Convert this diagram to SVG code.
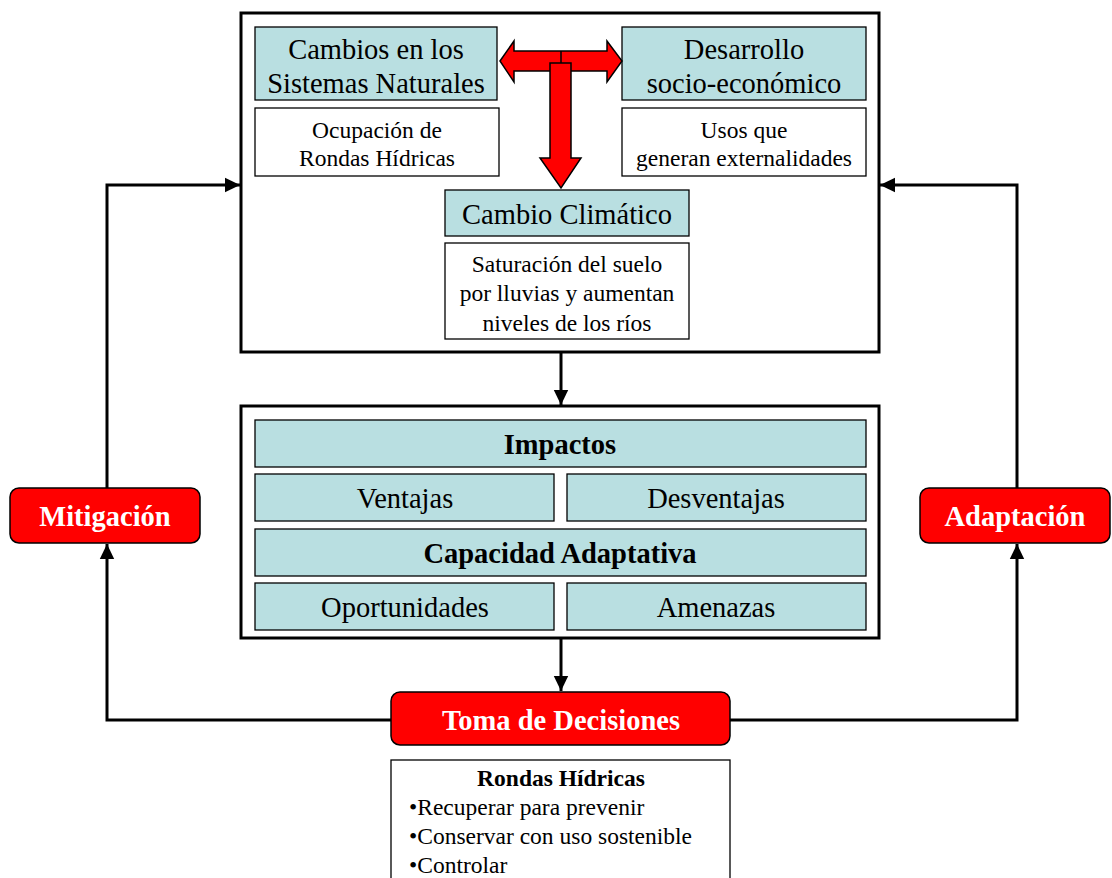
<svg xmlns="http://www.w3.org/2000/svg" width="1112" height="878" viewBox="0 0 1112 878">
<style>
.frame{fill:#fff;stroke:#000;stroke-width:3}
.teal{fill:#B9DFE1;stroke:#000;stroke-width:1.3}
.white{fill:#fff;stroke:#000;stroke-width:1.3}
.red{fill:#FF0000;stroke:#000;stroke-width:1.5}
.t{font-family:"Liberation Serif","Times New Roman",serif;text-anchor:middle;fill:#000}
.big{font-size:28.5px}
.sm{font-size:23.5px}
.b{font-weight:bold}
.w{fill:#fff}
.l{text-anchor:start}
.conn{fill:none;stroke:#000;stroke-width:3}
</style>
<defs>
<marker id="ah" markerWidth="6" markerHeight="6" refX="5" refY="3" orient="auto" markerUnits="strokeWidth">
<path d="M0,0.6 L5,3 L0,5.4 Z" fill="#000"/>
</marker>
</defs>
<g id="frame-top"><rect class="frame" x="241" y="13" width="638" height="339"/></g>
<g id="frame-mid"><rect class="frame" x="241" y="406" width="638" height="232"/></g>

<g id="cambios"><rect class="teal" x="255" y="27" width="242" height="73"/>
<text class="t big" x="376" y="59">Cambios en los</text>
<text class="t big" x="376" y="93">Sistemas Naturales</text></g>
<g id="ocupacion"><rect class="white" x="255" y="108" width="244" height="68"/>
<text class="t sm" x="377" y="138">Ocupación de</text>
<text class="t sm" x="377" y="166">Rondas Hídricas</text></g>
<g id="desarrollo"><rect class="teal" x="622" y="27" width="244" height="73"/>
<text class="t big" x="744" y="59">Desarrollo</text>
<text class="t big" x="744" y="93">socio-económico</text></g>
<g id="usos"><rect class="white" x="622" y="108" width="244" height="68"/>
<text class="t sm" x="744" y="138">Usos que</text>
<text class="t sm" x="744" y="166">generan externalidades</text></g>
<g id="cambio-climatico"><rect class="teal" x="445" y="190" width="244" height="46"/>
<text class="t big" x="567" y="224">Cambio Climático</text></g>
<g id="saturacion"><rect class="white" x="445" y="243" width="244" height="96"/>
<text class="t sm" x="567" y="272">Saturación del suelo</text>
<text class="t sm" x="567" y="301">por lluvias y aumentan</text>
<text class="t sm" x="567" y="331">niveles de los ríos</text></g>

<g id="t-arrow">
<path class="red" d="M500,61 L514,41 L514,51 L607,51 L607,41 L622,61 L607,82 L607,71 L514,71 L514,82 Z"/>
<line x1="561" y1="51" x2="561" y2="63" stroke="#000" stroke-width="1.5"/>
<path class="red" d="M550,63 L571,63 L571,158 L581,158 L561,188 L540,158 L550,158 Z"/>
</g>

<g id="impactos"><rect class="teal" x="255" y="420" width="611" height="47"/>
<text class="t big b" x="560" y="454">Impactos</text></g>
<g id="ventajas"><rect class="teal" x="255" y="474" width="299" height="47"/>
<text class="t big" x="405" y="508">Ventajas</text></g>
<g id="desventajas"><rect class="teal" x="567" y="474" width="299" height="47"/>
<text class="t big" x="716" y="508">Desventajas</text></g>
<g id="capacidad"><rect class="teal" x="255" y="529" width="611" height="47"/>
<text class="t big b" x="560" y="563">Capacidad Adaptativa</text></g>
<g id="oportunidades"><rect class="teal" x="255" y="583" width="299" height="47"/>
<text class="t big" x="405" y="617">Oportunidades</text></g>
<g id="amenazas"><rect class="teal" x="567" y="583" width="299" height="47"/>
<text class="t big" x="716" y="617">Amenazas</text></g>

<g id="connectors">
<line class="conn" x1="561" y1="352" x2="561" y2="405" marker-end="url(#ah)"/>
<line class="conn" x1="561" y1="638" x2="561" y2="691" marker-end="url(#ah)"/>
<polyline class="conn" points="391,720 107,720 107,544" marker-end="url(#ah)"/>
<polyline class="conn" points="107,488 107,185 240,185" marker-end="url(#ah)"/>
<polyline class="conn" points="730,720 1017,720 1017,544" marker-end="url(#ah)"/>
<polyline class="conn" points="1017,488 1017,185 880,185" marker-end="url(#ah)"/>
</g>

<g id="mitigacion"><rect class="red" x="10" y="488" width="190" height="55" rx="9"/>
<text class="t big b w" x="105" y="526">Mitigación</text></g>
<g id="adaptacion"><rect class="red" x="920" y="488" width="190" height="55" rx="9"/>
<text class="t big b w" x="1015" y="526">Adaptación</text></g>
<g id="toma"><rect class="red" x="391" y="692" width="339" height="53" rx="9"/>
<text class="t big b w" x="561" y="730">Toma de Decisiones</text></g>
<g id="rondas"><rect class="white" x="391" y="760" width="339" height="130"/>
<text class="t sm b" x="561" y="786">Rondas Hídricas</text>
<text class="t sm l" x="409" y="815">•Recuperar para prevenir</text>
<text class="t sm l" x="409" y="844">•Conservar con uso sostenible</text>
<text class="t sm l" x="409" y="873">•Controlar</text></g>
</svg>
